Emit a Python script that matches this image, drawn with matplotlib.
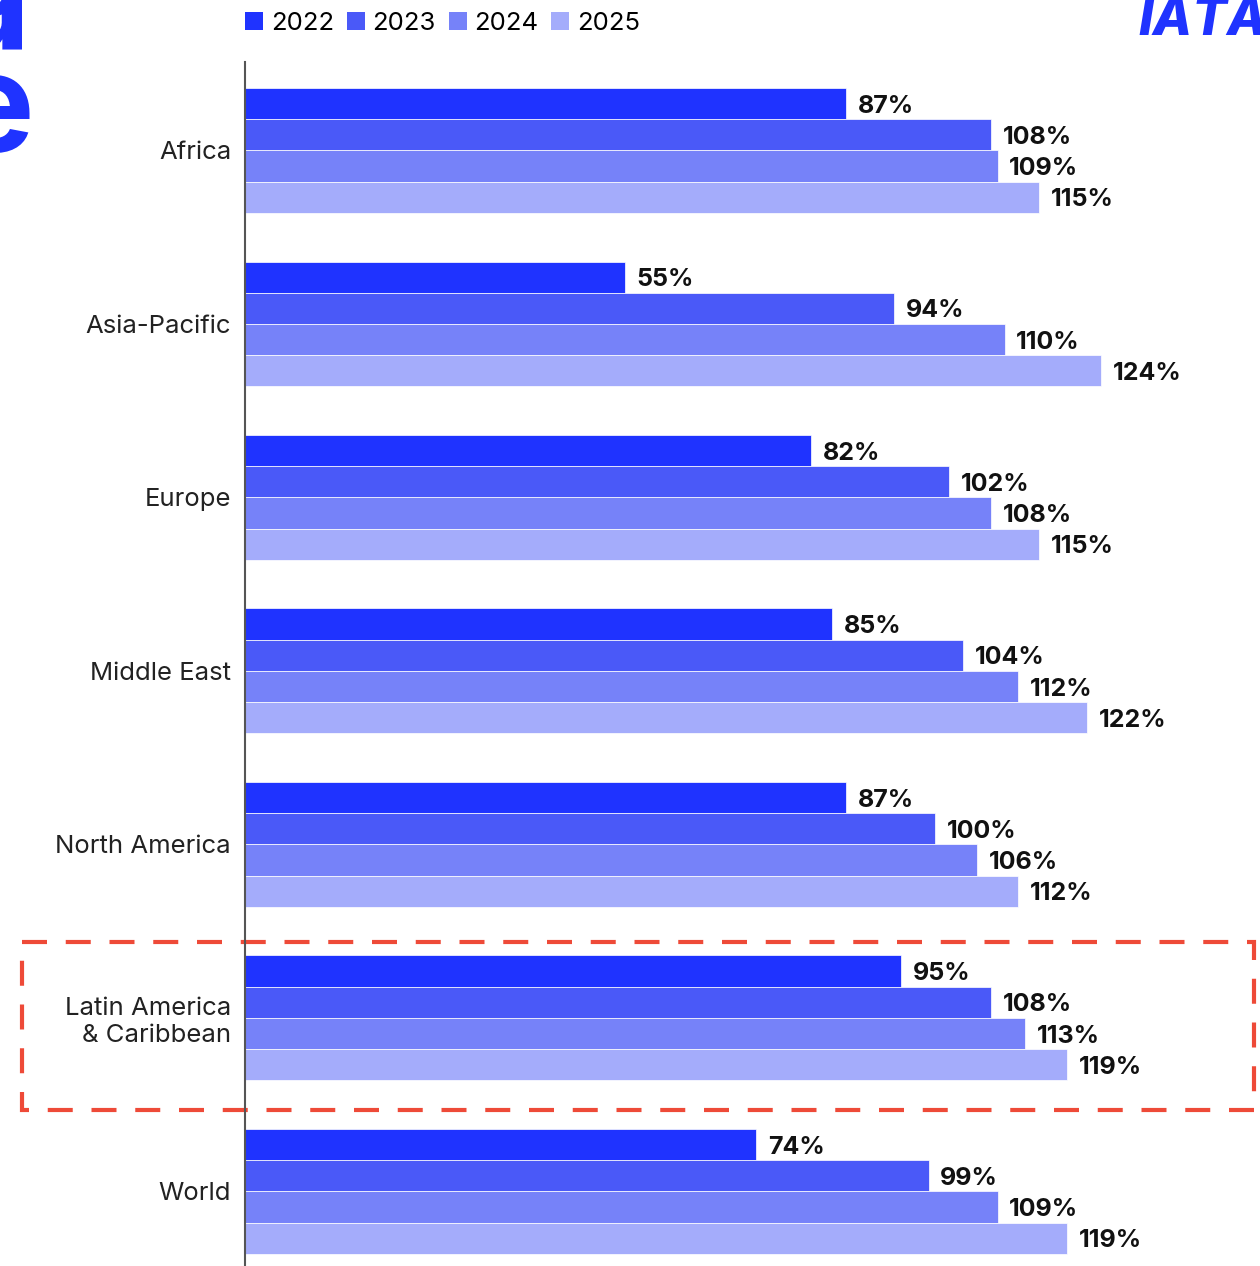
import matplotlib
matplotlib.use("Agg")
import matplotlib.pyplot as plt
import matplotlib.transforms as mtransforms
from matplotlib.patches import Patch, Rectangle
import numpy as np

plt.rcParams["font.family"] = ["Inter", "DejaVu Sans"]

regions = [
    "Africa",
    "Asia-Pacific",
    "Europe",
    "Middle East",
    "North America",
    "Latin America\n& Caribbean",
    "World",
]
years = ["2022", "2023", "2024", "2025"]
values_2022 = [87, 55, 82, 85, 87, 95, 74]
values_2023 = [108, 94, 102, 104, 100, 108, 99]
values_2024 = [109, 110, 108, 112, 106, 113, 109]
values_2025 = [115, 124, 115, 122, 112, 119, 119]
colors = ["#1f33ff", "#4a59f8", "#7682f9", "#a4acfb"]
highlight = "Latin America\n& Caribbean"

series = [values_2022, values_2023, values_2024, values_2025]

fig = plt.figure(figsize=(12.6, 12.66), dpi=100)
ax = fig.add_axes([245 / 1260, 0, 1 - 245 / 1260, 1 - 62 / 1266])

bar_h = 0.18
y = np.arange(len(regions))
for k, (vals, color) in enumerate(zip(series, colors)):
    pos = y - 1.5 * bar_h + k * bar_h
    ax.barh(pos, vals, height=bar_h, color=color, edgecolor="white",
            linewidth=0.5)
    for p, v in zip(pos, vals):
        ax.text(v + 1.7, p + 0.015, f"{v}%", va="center", ha="left",
                fontsize=18, fontweight="bold", color="#111111")

ax.set_xlim(0, 147)
ax.set_ylim(6.43, -0.51)
ax.set_yticks(y, regions)
ax.set_xticks([])
ax.tick_params(axis="y", length=0, pad=10, labelsize=18.5, labelcolor="#222222")
for lbl in ax.get_yticklabels():
    lbl.set_horizontalalignment("right")
    lbl.set_multialignment("right")
for side in ["top", "right", "bottom"]:
    ax.spines[side].set_visible(False)
ax.spines["left"].set_color("#555555")
ax.spines["left"].set_linewidth(1.5)

# dashed highlight box round Latin America
hi = regions.index(highlight)
trans = mtransforms.blended_transform_factory(fig.transFigure, ax.transData)
box = Rectangle((22 / 1260, hi - 0.44), 1232 / 1260, 0.97,
                transform=trans, fill=False, edgecolor="#ee4a38",
                linewidth=3, linestyle=(0, (6, 4.5)), clip_on=False)
ax.add_patch(box)

handles = [Patch(facecolor=c, label=yr) for yr, c in zip(years, colors)]
fig.legend(handles=handles, loc="upper left", bbox_to_anchor=(222 / 1260, 1.009),
           ncol=4, frameon=False, fontsize=18.5, handlelength=0.7,
           handleheight=0.7, handletextpad=0.3, columnspacing=0.5)

# cropped pieces of the page around the chart
fig.text(30 / 1260, 1 - 50 / 1266, "a", ha="right", va="baseline",
         fontsize=100, fontweight="bold", color="#1f33ff")
fig.text(34 / 1260, 1 - 152 / 1266, "e", ha="right", va="baseline",
         fontsize=100, fontweight="bold", color="#1f33ff")
fig.text(1138 / 1260, 1 - 35 / 1266, "IATA", ha="left", va="baseline",
         fontsize=37, fontweight="heavy", fontstyle="italic", color="#1f33ff")

fig.savefig("out.png", dpi=100)
